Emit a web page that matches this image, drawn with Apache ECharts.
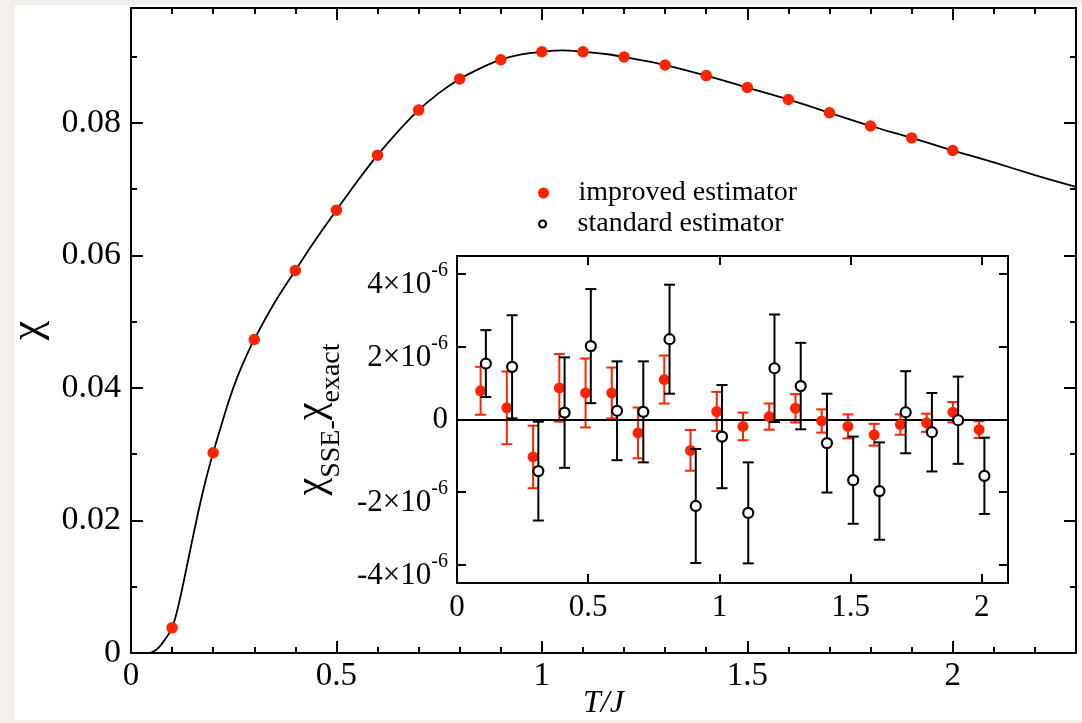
<!DOCTYPE html>
<html>
<head>
<meta charset="utf-8">
<script src="https://cdn.jsdelivr.net/npm/echarts@6/dist/echarts.min.js"></script>
<style>
  html, body { margin: 0; padding: 0; background: #f2efe8; }
  #panel { position: absolute; left: 15px; top: 5px; width: 1067px; height: 715px; background: #ffffff; }
  #chart { position: absolute; left: 0; top: 0; width: 1082px; height: 723px; }
</style>
</head>
<body>
<div id="panel"></div>
<div id="chart"></div>
<script>
// ---------------- data ----------------
const mainT   = [0.1, 0.2, 0.3, 0.4, 0.5, 0.6, 0.7, 0.8, 0.9, 1.0, 1.1, 1.2, 1.3, 1.4, 1.5, 1.6, 1.7, 1.8, 1.9, 2.0];
const mainChi = [0.0038, 0.0302, 0.0473, 0.0577, 0.0668, 0.0751, 0.0819, 0.0866, 0.0895, 0.0907,
                 0.0907, 0.0899, 0.0887, 0.0871, 0.0853, 0.0835, 0.0815, 0.0795, 0.0777, 0.0758];

const curveT   = [0, 0.04, 0.05, 0.06, 0.07, 0.08, 0.09, 0.1, 0.11, 0.12, 0.13, 0.14, 0.15, 0.16, 0.17, 0.18, 0.19, 0.2,
                  0.22, 0.24, 0.26, 0.28, 0.3, 0.35, 0.4, 0.45, 0.5, 0.55, 0.6, 0.65, 0.7, 0.75, 0.8, 0.85, 0.9, 0.95,
                  1.0, 1.05, 1.1, 1.15, 1.2, 1.3, 1.4, 1.5, 1.6, 1.7, 1.8, 1.9, 2.0, 2.1, 2.2, 2.3];
const curveChi = [0, 0, 0.0001, 0.0004, 0.0010, 0.0018, 0.0027, 0.0038, 0.0058, 0.0084, 0.0113, 0.0143, 0.0173, 0.0202, 0.0230, 0.0256, 0.0280, 0.0302,
                  0.0344, 0.0384, 0.0418, 0.0447, 0.0473, 0.0529, 0.0577, 0.0624, 0.0668, 0.0711, 0.0751, 0.0787, 0.0819, 0.0845, 0.0866, 0.0882, 0.0895, 0.0903,
                  0.0907, 0.0909, 0.0907, 0.0904, 0.0899, 0.0887, 0.0871, 0.0853, 0.0835, 0.0815, 0.0795, 0.0777, 0.0758, 0.0740, 0.0721, 0.0703];

// inset: deviations in units of 1e-6
const insetT       = [0.1, 0.2, 0.3, 0.4, 0.5, 0.6, 0.7, 0.8, 0.9, 1.0, 1.1, 1.2, 1.3, 1.4, 1.5, 1.6, 1.7, 1.8, 1.9, 2.0];
const improvedDev  = [0.79, 0.32, -1.03, 0.87, 0.73, 0.73, -0.37, 1.10, -0.85, 0.22, -0.19, 0.08, 0.31, -0.04, -0.19, -0.42, -0.14, -0.09, 0.20, -0.28];
const improvedErr  = [0.66, 1.00, 0.86, 0.93, 0.95, 0.70, 0.70, 0.66, 0.56, 0.54, 0.38, 0.36, 0.39, 0.32, 0.33, 0.30, 0.28, 0.25, 0.28, 0.23];
const standardDev  = [1.54, 1.45, -1.42, 0.19, 2.02, 0.24, 0.21, 2.21, -2.38, -0.47, -2.57, 1.41, 0.92, -0.65, -1.67, -1.97, 0.20, -0.35, -0.02, -1.55];
const standardErr  = [0.92, 1.42, 1.36, 1.52, 1.57, 1.36, 1.39, 1.50, 1.57, 1.42, 1.39, 1.48, 1.19, 1.36, 1.20, 1.34, 1.13, 1.08, 1.20, 1.05];
const insetShift   = 0.01; // the two estimators are drawn slightly left / right of each T

// tick values
const mainXTicks  = [0, 0.5, 1, 1.5, 2];
const mainXMinor  = [0.1, 0.2, 0.3, 0.4, 0.6, 0.7, 0.8, 0.9, 1.1, 1.2, 1.3, 1.4, 1.6, 1.7, 1.8, 1.9, 2.1, 2.2];
const mainYTicks  = [0, 0.02, 0.04, 0.06, 0.08];
const mainYMinor  = [0.01, 0.03, 0.05, 0.07, 0.09];
const insetXTicks = [0, 0.5, 1, 1.5, 2];
const insetYTicks = [-4, -2, 0, 2, 4];

// ---------------- styling ----------------
const SERIF = "'Liberation Serif', 'DejaVu Serif', serif";
const RED = '#ff2400';
const BLACK = '#000000';

function ax(o) {
  return Object.assign({
    type: 'value',
    splitLine: { show: false },
    axisLine: { show: false, onZero: false },
    axisTick: { show: false },
    axisLabel: { show: false },
    axisPointer: { show: false }
  }, o);
}
function frameLine() { return { show: true, onZero: false, lineStyle: { color: BLACK, width: 2 } }; }
function ticks(vals, len) { return { show: true, inside: true, length: len, customValues: vals, lineStyle: { color: BLACK, width: 2 } }; }

const MX = { min: 0, max: 2.3 };
const MY = { min: 0, max: 0.0973 };
const IX = { min: 0, max: 2.1 };
const IY = { min: -4.5, max: 4.5 };

const xAxes = [
  // main bottom (major + labels)
  ax(Object.assign({ gridIndex: 0, position: 'bottom', axisLine: frameLine(), axisTick: ticks(mainXTicks, 12),
    axisLabel: { show: true, customValues: mainXTicks, margin: 7, fontSize: 33, fontFamily: SERIF, color: BLACK,
      formatter: v => String(v) },
    name: 'T/J', nameLocation: 'middle', nameGap: 35, nameMoveOverlap: false,
    nameTextStyle: { fontFamily: SERIF, fontStyle: 'italic', fontSize: 32, color: BLACK } }, MX)),
  ax(Object.assign({ gridIndex: 0, position: 'bottom', axisTick: ticks(mainXMinor, 6) }, MX)),
  ax(Object.assign({ gridIndex: 0, position: 'top', axisLine: frameLine(), axisTick: ticks(mainXTicks, 12) }, MX)),
  ax(Object.assign({ gridIndex: 0, position: 'top', axisTick: ticks(mainXMinor, 6) }, MX)),
  // inset
  ax(Object.assign({ gridIndex: 1, position: 'bottom', axisLine: frameLine(), axisTick: ticks(insetXTicks, 9),
    axisLabel: { show: true, customValues: insetXTicks, margin: 9, fontSize: 31, fontFamily: SERIF, color: BLACK,
      formatter: v => String(v) } }, IX)),
  ax(Object.assign({ gridIndex: 1, position: 'top', axisLine: frameLine(), axisTick: ticks(insetXTicks, 9) }, IX))
];

const yAxes = [
  ax(Object.assign({ gridIndex: 0, position: 'left', axisLine: frameLine(), axisTick: ticks(mainYTicks, 12),
    axisLabel: { show: true, customValues: mainYTicks, margin: 10, fontSize: 34, fontFamily: SERIF, color: BLACK,
      formatter: v => String(v) },
    name: 'χ', nameLocation: 'middle', nameRotate: 90, nameGap: 78,
    nameTextStyle: { fontFamily: SERIF, fontSize: 44, color: BLACK } }, MY)),
  ax(Object.assign({ gridIndex: 0, position: 'left', axisTick: ticks(mainYMinor, 6) }, MY)),
  ax(Object.assign({ gridIndex: 0, position: 'right', axisLine: frameLine(), axisTick: ticks(mainYTicks, 12) }, MY)),
  ax(Object.assign({ gridIndex: 0, position: 'right', axisTick: ticks(mainYMinor, 6) }, MY)),
  ax(Object.assign({ gridIndex: 1, position: 'left', axisLine: frameLine(), axisTick: ticks(insetYTicks, 9),
    axisLabel: { show: true, customValues: insetYTicks, margin: 9, color: BLACK,
      formatter: v => v === 0 ? '{z|0}' : '{b|' + (v < 0 ? '-' : '') + Math.abs(v) + '×10}{s|-6}',
      rich: {
        z: { fontFamily: SERIF, fontSize: 31, lineHeight: 31, color: BLACK },
        b: { fontFamily: SERIF, fontSize: 31, lineHeight: 53, color: BLACK, verticalAlign: 'bottom' },
        s: { fontFamily: SERIF, fontSize: 20, lineHeight: 20, color: BLACK, verticalAlign: 'top', padding: [13, 0, 0, 0] }
      } },
    name: '{c|χ}{u|SSE-}{c|χ}{u|exact}', nameLocation: 'middle', nameRotate: 90, nameGap: 100,
    nameTextStyle: { rich: {
      c: { fontFamily: SERIF, fontSize: 40, lineHeight: 54, color: BLACK, verticalAlign: 'top' },
      u: { fontFamily: SERIF, fontSize: 28, lineHeight: 28, color: BLACK, verticalAlign: 'bottom' }
    } } }, IY)),
  ax(Object.assign({ gridIndex: 1, position: 'right', axisLine: frameLine(), axisTick: ticks(insetYTicks, 9) }, IY))
];

function errorBars(color) {
  return function (params, api) {
    const x = api.value(0), y = api.value(1), e = api.value(2);
    const top = api.coord([x, y + e]);
    const bot = api.coord([x, y - e]);
    const hw = 5.5;
    const st = { stroke: color, lineWidth: 2 };
    return { type: 'group', children: [
      { type: 'line', shape: { x1: top[0], y1: top[1], x2: bot[0], y2: bot[1] }, style: st },
      { type: 'line', shape: { x1: top[0] - hw, y1: top[1], x2: top[0] + hw, y2: top[1] }, style: st },
      { type: 'line', shape: { x1: bot[0] - hw, y1: bot[1], x2: bot[0] + hw, y2: bot[1] }, style: st }
    ] };
  };
}

const improvedPts = insetT.map((t, i) => [t - insetShift, improvedDev[i], improvedErr[i]]);
const standardPts = insetT.map((t, i) => [t + insetShift, standardDev[i], standardErr[i]]);

const option = {
  backgroundColor: 'transparent',
  animation: false,
  grid: [
    { left: 131, top: 8, width: 945, height: 645, show: false, outerBoundsMode: 'none', containLabel: false },
    { left: 457, top: 256, width: 551, height: 327, show: true, backgroundColor: '#ffffff', borderWidth: 0,
      outerBoundsMode: 'none', containLabel: false }
  ],
  xAxis: xAxes,
  yAxis: yAxes,
  legend: [
    { data: [{ name: 'improved estimator', icon: 'circle', itemStyle: { color: RED, borderWidth: 0 } }],
      left: 538, top: 179, padding: 0, itemWidth: 60, itemHeight: 11, selectedMode: false,
      textStyle: { fontFamily: SERIF, fontSize: 28, lineHeight: 28, color: BLACK } },
    { data: [{ name: 'standard estimator', icon: 'circle', itemStyle: { color: '#ffffff', borderColor: BLACK, borderWidth: 2.2 } }],
      left: 538, top: 210, padding: 0, itemWidth: 60, itemHeight: 7, selectedMode: false,
      textStyle: { fontFamily: SERIF, fontSize: 28, lineHeight: 28, color: BLACK } }
  ],
  series: [
    { name: 'exact', type: 'line', xAxisIndex: 0, yAxisIndex: 0, showSymbol: false, smooth: 0.35,
      data: curveT.map((t, i) => [t, curveChi[i]]), lineStyle: { color: BLACK, width: 1.8 }, z: 2 },
    { name: 'improved estimator', type: 'scatter', xAxisIndex: 0, yAxisIndex: 0, symbol: 'circle', symbolSize: 11.5,
      itemStyle: { color: RED, opacity: 1 }, data: mainT.map((t, i) => [t, mainChi[i]]), z: 3 },
    // inset
    { name: 'improved err', type: 'custom', xAxisIndex: 4, yAxisIndex: 4, renderItem: errorBars(RED),
      data: improvedPts, z: 4,
      markLine: { symbol: 'none', silent: true, label: { show: false },
        lineStyle: { color: BLACK, width: 1.8, type: 'solid' }, data: [{ yAxis: 0 }] } },
    { name: 'improved estimator', type: 'scatter', xAxisIndex: 4, yAxisIndex: 4, symbol: 'circle', symbolSize: 11,
      itemStyle: { color: RED, opacity: 1 }, data: improvedPts, z: 5 },
    { name: 'standard err', type: 'custom', xAxisIndex: 4, yAxisIndex: 4, renderItem: errorBars(BLACK),
      data: standardPts, z: 6 },
    { name: 'standard estimator', type: 'scatter', xAxisIndex: 4, yAxisIndex: 4, symbol: 'circle', symbolSize: 10,
      itemStyle: { color: '#ffffff', borderColor: BLACK, borderWidth: 2.2, opacity: 1 }, data: standardPts, z: 7 }
  ]
};

const chart = echarts.init(document.getElementById('chart'), null, { renderer: 'canvas' });
chart.setOption(option);
</script>
</body>
</html>
